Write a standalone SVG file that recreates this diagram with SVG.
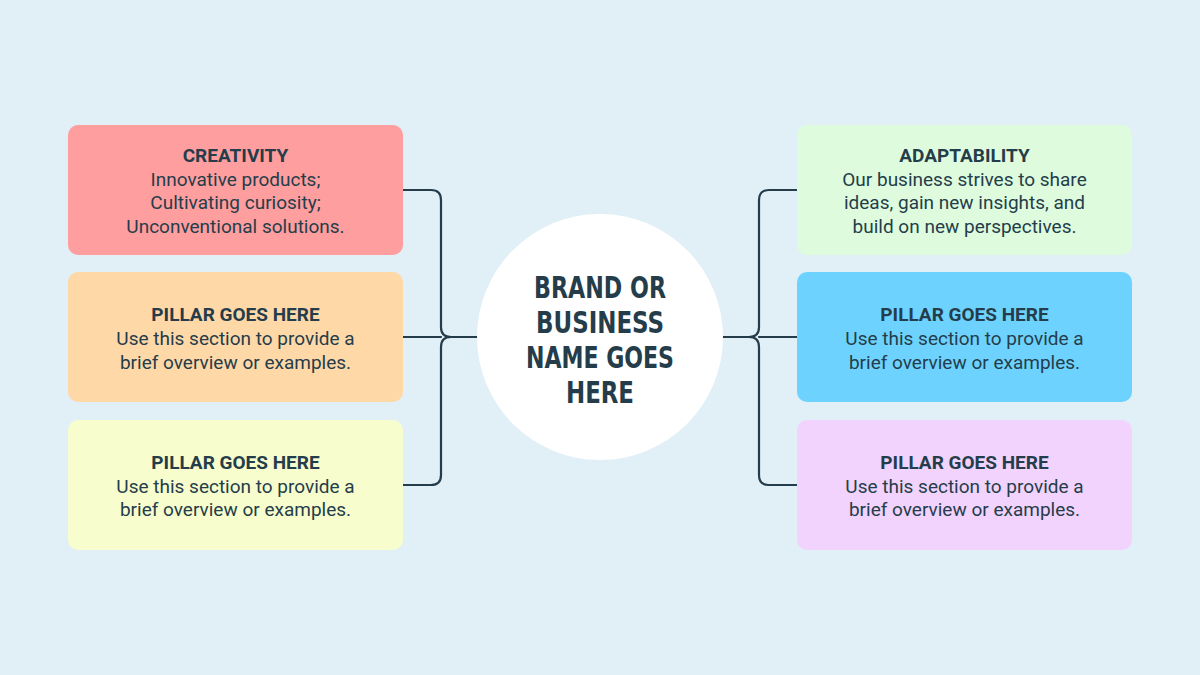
<svg xmlns="http://www.w3.org/2000/svg" width="1200" height="675" viewBox="0 0 1200 675">
<style>
.box{stroke:none}
.t{font-family:Roboto,"Liberation Sans",sans-serif;font-size:19px;fill:#253D4A;text-anchor:middle}
.h{font-weight:bold}
.c{fill:none;stroke:#253D4A;stroke-width:2.2;stroke-linecap:round}
.title{font-family:"Liberation Sans Narrow","DejaVu Sans Condensed",sans-serif;font-weight:bold;font-size:30px;fill:#253D4A;text-anchor:middle}
</style>
<rect width="1200" height="675" fill="#E1EFF7"/>
<g id="connectors">
<path class="c" d="M403 190 H431 Q441 190 441 200 V327 Q441 337 451 337 H478"/>
<path class="c" d="M403 485 H431 Q441 485 441 475 V347 Q441 337 451 337"/>
<path class="c" d="M403 337 H441"/>
<path class="c" d="M797 190 H769 Q759 190 759 200 V327 Q759 337 749 337 H722"/>
<path class="c" d="M797 485 H769 Q759 485 759 475 V347 Q759 337 749 337"/>
<path class="c" d="M797 337 H759"/>
</g>
<g id="center">
<circle cx="600" cy="337" r="123" fill="#FFFFFF"/>
<text class="title" x="600" y="298" textLength="132" lengthAdjust="spacingAndGlyphs">BRAND OR</text>
<text class="title" x="600" y="333" textLength="128" lengthAdjust="spacingAndGlyphs">BUSINESS</text>
<text class="title" x="600" y="368" textLength="148" lengthAdjust="spacingAndGlyphs">NAME GOES</text>
<text class="title" x="600" y="403" textLength="68" lengthAdjust="spacingAndGlyphs">HERE</text>
</g>
<g id="creativity">
<rect class="box" x="68" y="125" width="335" height="130" rx="10" fill="#FF9E9E"/>
<text class="t h" x="235.5" y="162">CREATIVITY</text>
<text class="t" x="235.5" y="186">Innovative products;</text>
<text class="t" x="235.5" y="209">Cultivating curiosity;</text>
<text class="t" x="235.5" y="233">Unconventional solutions.</text>
</g>
<g id="pillar-left-2">
<rect class="box" x="68" y="272" width="335" height="130" rx="10" fill="#FFD8A8"/>
<text class="t h" x="235.5" y="321">PILLAR GOES HERE</text>
<text class="t" x="235.5" y="345">Use this section to provide a</text>
<text class="t" x="235.5" y="369">brief overview or examples.</text>
</g>
<g id="pillar-left-3">
<rect class="box" x="68" y="420" width="335" height="130" rx="10" fill="#F7FDCC"/>
<text class="t h" x="235.5" y="469">PILLAR GOES HERE</text>
<text class="t" x="235.5" y="493">Use this section to provide a</text>
<text class="t" x="235.5" y="516">brief overview or examples.</text>
</g>
<g id="adaptability">
<rect class="box" x="797" y="125" width="335" height="130" rx="10" fill="#DEFCDD"/>
<text class="t h" x="964.5" y="162">ADAPTABILITY</text>
<text class="t" x="964.5" y="186">Our business strives to share</text>
<text class="t" x="964.5" y="209">ideas, gain new insights, and</text>
<text class="t" x="964.5" y="233">build on new perspectives.</text>
</g>
<g id="pillar-right-2">
<rect class="box" x="797" y="272" width="335" height="130" rx="10" fill="#6DD3FE"/>
<text class="t h" x="964.5" y="321">PILLAR GOES HERE</text>
<text class="t" x="964.5" y="345">Use this section to provide a</text>
<text class="t" x="964.5" y="369">brief overview or examples.</text>
</g>
<g id="pillar-right-3">
<rect class="box" x="797" y="420" width="335" height="130" rx="10" fill="#F2D3FD"/>
<text class="t h" x="964.5" y="469">PILLAR GOES HERE</text>
<text class="t" x="964.5" y="493">Use this section to provide a</text>
<text class="t" x="964.5" y="516">brief overview or examples.</text>
</g>
</svg>
